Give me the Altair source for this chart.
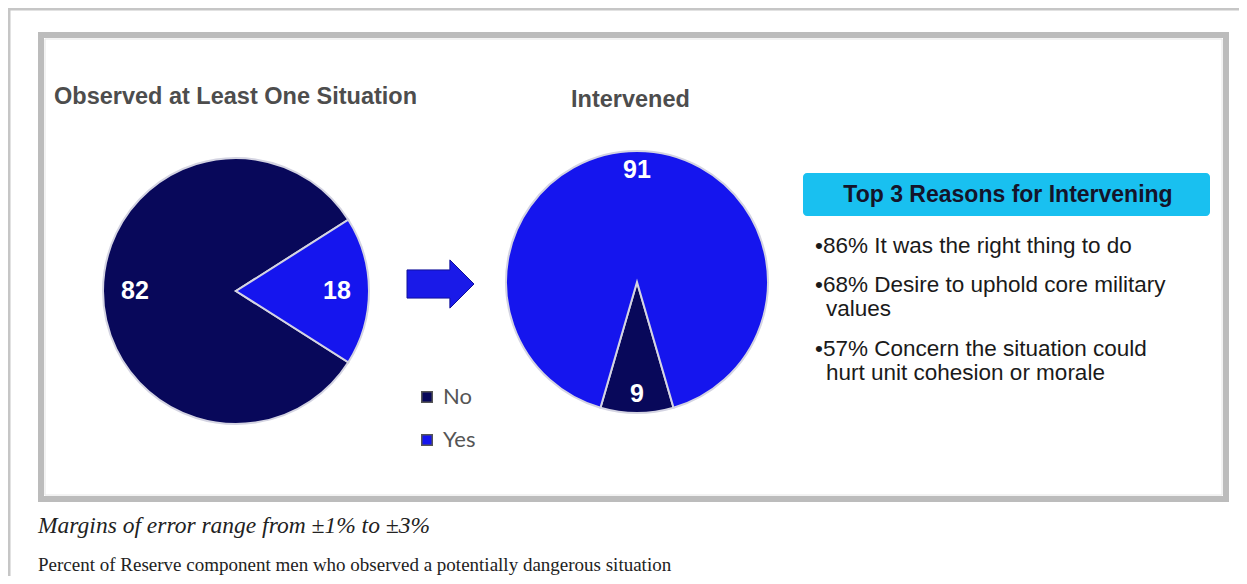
import math
import altair as alt
import pandas as pd

# ---------------- data ----------------
pie1_title = "Observed at Least One Situation"
pie1_categories = ["No", "Yes"]
pie1_values = [82, 18]

pie2_title = "Intervened"
pie2_categories = ["No", "Yes"]
pie2_values = [9, 91]

legend_categories = ["No", "Yes"]
legend_colors = ["#08085a", "#1515ee"]

reasons_title = "Top 3 Reasons for Intervening"
reasons_lines = [
    "•86% It was the right thing to do",
    "•68% Desire to uphold core military",
    "values",
    "•57% Concern the situation could",
    "hurt unit cohesion or morale",
]
note_text = "Margins of error range from ±1% to ±3%"
caption_text = "Percent of Reserve component men who observed a potentially  dangerous situation"

# ---------------- layout ----------------
W, H = 1231, 568
OFF = 8  # page margin; page coords -> chart coords


def px(v):
    return v - OFF


one = alt.Data(values=[{}])


def text_layer(txt, x, y, **kw):
    return alt.Chart(one).mark_text(**kw).encode(
        x=alt.value(px(x)), y=alt.value(px(y)), text=alt.value(txt)
    )


def rect_layer(x1, y1, x2, y2, **kw):
    return alt.Chart(one).mark_rect(**kw).encode(
        x=alt.value(px(x1)), x2=alt.value(px(x2)),
        y=alt.value(px(y1)), y2=alt.value(px(y2)),
    )


color_scale = alt.Scale(domain=legend_categories, range=legend_colors)

# frames
outer_frame = rect_layer(9, 9, 1300, 700, fill="white", stroke="#c6c6c6", strokeWidth=3)
inner_frame = rect_layer(41, 35, 1226, 499, fill="white", stroke="#bcbcbc", strokeWidth=6)
inner_line = rect_layer(45, 39, 1222, 495, fill="white", stroke="#e6e6e6", strokeWidth=1)

# titles
title_kw = dict(font="Liberation Sans", fontWeight="bold", fontSize=23.5, color="#4d4d4d",
                align="left", baseline="middle")
t1 = text_layer(pie1_title, 54, 97, **title_kw)
t2 = text_layer(pie2_title, 571, 100, **title_kw)


# pies
def pie(cats, vals, cx, cy, r, start_deg, label_r):
    df = pd.DataFrame({"cat": cats, "value": vals})
    s = math.radians(start_deg)
    theta = alt.Theta("value:Q", stack=True, scale=alt.Scale(range=[s, s + 2 * math.pi]))
    base = alt.Chart(df).encode(
        theta=theta,
        order=alt.Order("cat:N", sort="ascending"),
        x=alt.value(px(cx)),
        y=alt.value(px(cy)),
    )
    arc = base.mark_arc(outerRadius=r, stroke="#d4d4e2", strokeWidth=2).encode(
        color=alt.Color("cat:N", scale=color_scale,
                        legend=alt.Legend(title=None, orient="none",
                                          legendX=px(416), legendY=px(386),
                                          symbolType="square", symbolSize=110,
                                          symbolStrokeColor="#555555", symbolStrokeWidth=1.5,
                                          labelFont="Lato", labelFontSize=22,
                                          labelColor="#555555", labelOffset=5,
                                          rowPadding=21))
    )
    lab = base.mark_text(radius=label_r, font="Liberation Sans", fontWeight="bold",
                         fontSize=25, color="white").encode(text="value:Q")
    return alt.layer(arc, lab)


# pie 1: the "Yes" slice is centred on 3 o'clock
p1 = pie(pie1_categories, pie1_values, 236, 291, 133,
         90 + pie1_values[1] / 100 * 180, 101)
# pie 2: the "No" slice is centred on 6 o'clock
p2 = pie(pie2_categories, pie2_values, 637, 282, 131,
         180 - pie2_values[0] / 100 * 180, 112)

# arrow
arrow_path = ("M-1,-0.42 L0.28,-0.42 L0.28,-0.72 L1,0 L0.28,0.72 "
              "L0.28,0.42 L-1,0.42 Z")
arrow = alt.Chart(one).mark_point(shape=arrow_path, size=67 * 67, filled=True,
                                  fill="#1a1ae8", stroke="#10109a", strokeWidth=1,
                                  opacity=1).encode(
    x=alt.value(px(440.5)), y=alt.value(px(284)))

# reasons box
header = rect_layer(803, 173, 1210, 216, fill="#19c0f0", cornerRadius=4)
header_txt = text_layer(reasons_title, 1008, 195, font="Liberation Sans", fontWeight="bold",
                        fontSize=23, color="#14142a", align="center", baseline="middle")
line_y = [246, 285, 309, 349, 373]
line_x = [815, 815, 826, 815, 826]
reason_layers = [
    text_layer(t, x, y, font="Liberation Sans", fontSize=22.5, color="#1a1a1a",
               align="left", baseline="middle")
    for t, x, y in zip(reasons_lines, line_x, line_y)
]

# notes
note = text_layer(note_text, 38, 526, font="Liberation Serif", fontStyle="italic",
                  fontSize=23.5, color="#222222", align="left", baseline="middle")
caption = text_layer(caption_text, 38, 571, font="Liberation Serif", fontSize=19,
                     color="#222222", align="left", baseline="alphabetic")

chart = alt.layer(
    outer_frame, inner_frame, inner_line, t1, t2, arrow, header, header_txt,
    *reason_layers, note, caption, p1, p2,
).resolve_scale(theta="independent").properties(
    width=W, height=H, autosize=alt.AutoSizeParams(type="none"), padding=0,
    background="white",
).configure_view(stroke=None)

chart.save("out.html", embed_options={"renderer": "svg", "actions": False})
